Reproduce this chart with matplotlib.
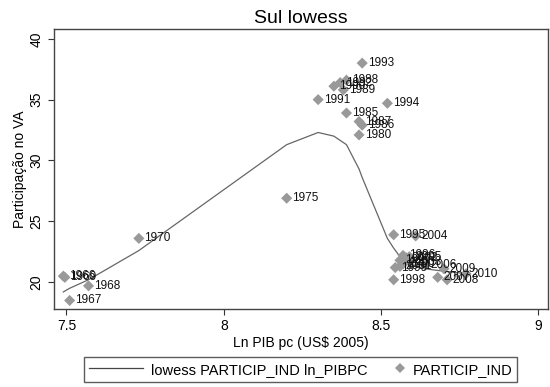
import matplotlib
matplotlib.use("Agg")
import numpy as np
import matplotlib.pyplot as plt
from matplotlib.lines import Line2D
from matplotlib.legend_handler import HandlerLine2D

plt.rcParams['font.family'] = ['Liberation Sans', 'DejaVu Sans']

# dados
anos = [1966, 1967, 1968, 1969, 1970, 1975, 1980, 1985, 1986, 1987, 1988, 1989,
        1990, 1991, 1992, 1993, 1994, 1995, 1996, 1997, 1998, 1999, 2000, 2001,
        2002, 2003, 2004, 2005, 2006, 2007, 2008, 2009, 2010]
ln_pibpc = [7.49, 7.51, 7.57, 7.495, 7.73, 8.20, 8.43, 8.39, 8.44, 8.43, 8.39, 8.38,
            8.35, 8.30, 8.37, 8.44, 8.52, 8.54, 8.57, 8.56, 8.54, 8.545, 8.57, 8.56,
            8.58, 8.59, 8.61, 8.59, 8.64, 8.68, 8.71, 8.70, 8.77]
particip = [20.5, 18.5, 19.7, 20.4, 23.6, 26.9, 32.1, 33.9, 32.9, 33.2, 36.6, 35.8,
            36.1, 35.0, 36.4, 38.0, 34.7, 23.9, 22.2, 21.8, 20.2, 21.2, 21.5, 21.3,
            22.0, 21.7, 23.8, 22.1, 21.4, 20.4, 20.2, 21.1, 20.7]

lowess_x = [7.49, 7.51, 7.57, 7.73, 8.20, 8.30, 8.35, 8.39, 8.43, 8.44, 8.52,
            8.54, 8.56, 8.58, 8.61, 8.64, 8.70, 8.77]
lowess_y = [19.2, 19.5, 20.2, 22.6, 31.3, 32.3, 32.0, 31.3, 29.3, 28.6, 23.6,
            22.8, 22.1, 21.6, 21.3, 21.1, 20.9, 20.7]

cinza = '#999999'


class MarcadorDireita(HandlerLine2D):
    # coloca o marcador perto do texto, no fim da caixa do simbolo
    def create_artists(self, legend, orig_handle, xdescent, ydescent,
                       width, height, fontsize, trans):
        arts = super().create_artists(legend, orig_handle, xdescent, ydescent,
                                      width, height, fontsize, trans)
        for a in arts:
            n = len(a.get_xdata())
            a.set_xdata(np.full(n, width - xdescent - 0.35 * fontsize))
        return arts


fig = plt.figure(figsize=(5.5, 3.87), dpi=100)
ax = fig.add_axes([0.098, 0.2016, 0.898, 0.7234])

ax.plot(lowess_x, lowess_y, color='#666666', lw=0.9, zorder=2)
ax.scatter(ln_pibpc, particip, marker='D', s=32, color=cinza, edgecolors='none', zorder=3)
for a, xv, yv in zip(anos, ln_pibpc, particip):
    ax.annotate(str(a), (xv, yv), xytext=(4, 0), textcoords='offset points',
                ha='left', va='center', fontsize=8.5, color='#111111', zorder=4)

ax.set_xlim(7.46, 9.03)
ax.set_ylim(17.8, 40.8)
ax.set_xticks([7.5, 8, 8.5, 9])
ax.set_xticklabels(['7.5', '8', '8.5', '9'])
ax.set_yticks([20, 25, 30, 35, 40])
ax.tick_params(axis='both', labelsize=10, direction='out', length=4, color='#333333')
for lab in ax.get_yticklabels():
    lab.set_rotation(90)
    lab.set_va('center')
for sp in ax.spines.values():
    sp.set_color('#444444')
    sp.set_linewidth(1.0)

ax.set_title('Sul lowess', fontsize=14, pad=4)
ax.set_xlabel('Ln PIB pc (US$ 2005)', fontsize=10, labelpad=2)
ax.set_ylabel('Participação no VA', fontsize=10, labelpad=2)

h_linha = Line2D([], [], color='#444444', lw=0.9)
h_ponto = Line2D([], [], marker='D', ls='none', color=cinza, markersize=5.5,
                 markeredgewidth=0)
leg = fig.legend([h_linha, h_ponto], ['lowess PARTICIP_IND ln_PIBPC', 'PARTICIP_IND'],
                 handler_map={h_ponto: MarcadorDireita()},
                 loc='center', bbox_to_anchor=(0.547, 0.045), ncol=2, fontsize=10.5,
                 frameon=True, fancybox=False, edgecolor='#333333',
                 handlelength=3.7, columnspacing=-1.1, borderpad=0.35,
                 handletextpad=0.5)
leg.get_frame().set_linewidth(1.0)

fig.savefig('out.png', dpi=100)
